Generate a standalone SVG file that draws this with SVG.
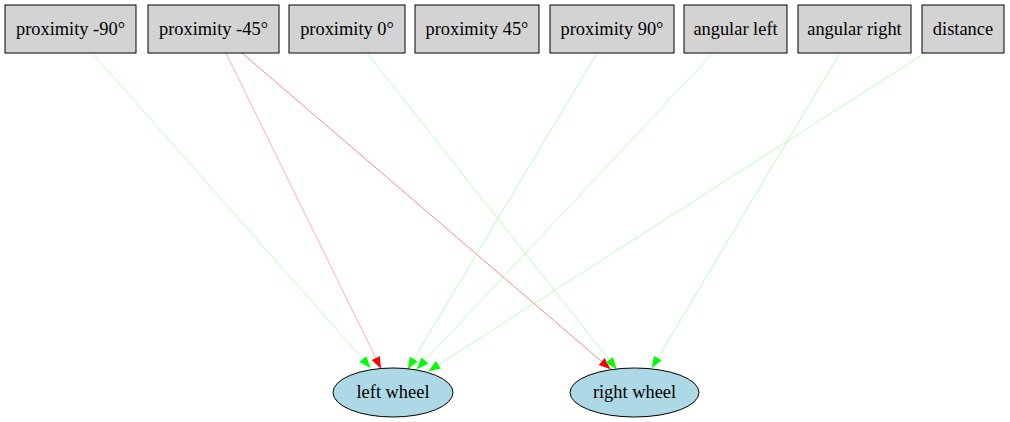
<svg xmlns="http://www.w3.org/2000/svg" width="1010" height="422" viewBox="0 0 1010 422">
<style>
.box{fill:#d3d3d3;stroke:#000;stroke-width:1}
.ell{fill:#add8e6;stroke:#000;stroke-width:1}
.g{stroke:#00ff00;stroke-opacity:0.35;stroke-width:0.8;fill:none}
.r{stroke:#ff0000;stroke-opacity:0.4;stroke-width:0.8;fill:none}
.r2{stroke:#ff0000;stroke-opacity:0.6;stroke-width:0.8;fill:none}
</style>
<defs>
<marker id="ag" markerUnits="userSpaceOnUse" markerWidth="13" markerHeight="10" refX="12" refY="4.5" orient="auto"><path d="M0,0 L12,4.5 L0,9 z" fill="#00ff00"/></marker>
<marker id="ar" markerUnits="userSpaceOnUse" markerWidth="13" markerHeight="10" refX="12" refY="4.5" orient="auto"><path d="M0,0 L12,4.5 L0,9 z" fill="#ff0000"/></marker>
</defs>
<rect width="1010" height="422" fill="#fff"/>
<g id="edges">
<line class="g" x1="92" y1="53" x2="370.7" y2="368" marker-end="url(#ag)"/>
<line class="r" x1="226" y1="53" x2="381" y2="368.7" marker-end="url(#ar)"/>
<line class="r2" x1="242" y1="53" x2="610.7" y2="369.3" marker-end="url(#ar)"/>
<line class="g" x1="367" y1="53" x2="616.7" y2="369.3" marker-end="url(#ag)"/>
<line class="g" x1="597" y1="53" x2="407.7" y2="369.3" marker-end="url(#ag)"/>
<line class="g" x1="713" y1="53" x2="416.7" y2="369.3" marker-end="url(#ag)"/>
<line class="g" x1="840" y1="53" x2="651.7" y2="368.3" marker-end="url(#ag)"/>
<line class="g" x1="925" y1="53" x2="428.3" y2="371.3" marker-end="url(#ag)"/>
</g>
<g font-family="'Liberation Serif', 'Times New Roman', 'DejaVu Serif', serif" font-size="18.4" text-anchor="middle" fill="#000">
<g id="n_prox_m90"><rect class="box" x="5" y="5" width="131" height="48"/><text x="70.5" y="34.8">proximity -90°</text></g>
<g id="n_prox_m45"><rect class="box" x="148" y="5" width="131" height="48"/><text x="213.5" y="34.8">proximity -45°</text></g>
<g id="n_prox_0"><rect class="box" x="289" y="5" width="116" height="48"/><text x="347" y="34.8">proximity 0°</text></g>
<g id="n_prox_45"><rect class="box" x="415" y="5" width="124" height="48"/><text x="477" y="34.8">proximity 45°</text></g>
<g id="n_prox_90"><rect class="box" x="550" y="5" width="124" height="48"/><text x="612" y="34.8">proximity 90°</text></g>
<g id="n_ang_left"><rect class="box" x="684" y="5" width="103" height="48"/><text x="735.5" y="34.8">angular left</text></g>
<g id="n_ang_right"><rect class="box" x="798" y="5" width="113" height="48"/><text x="854.5" y="34.8">angular right</text></g>
<g id="n_distance"><rect class="box" x="922" y="5" width="82" height="48"/><text x="963" y="34.8">distance</text></g>
<g id="n_left_wheel"><ellipse class="ell" cx="393" cy="392.5" rx="60" ry="24.5"/><text x="393" y="398.3">left wheel</text></g>
<g id="n_right_wheel"><ellipse class="ell" cx="634.5" cy="392.5" rx="64.5" ry="24.5"/><text x="634.5" y="398.3">right wheel</text></g>
</g>
</svg>
